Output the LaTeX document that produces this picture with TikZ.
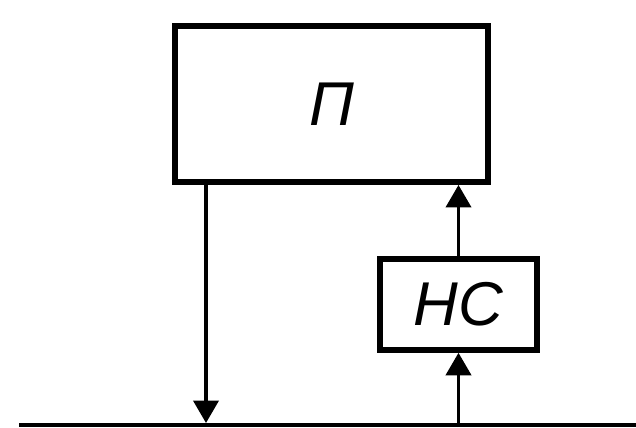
\documentclass[tikz,border=0pt]{standalone}
\usepackage{fontspec}
\setmainfont{Liberation Sans}
\usepackage{tikz}
\usetikzlibrary{arrows.meta}
\tikzset{
  blok/.style={draw,line width=4.2pt,inner sep=0pt,font=\fontsize{44}{44}\selectfont\itshape},
  sig/.style={line width=2.2pt,-{Triangle[length=16pt,width=18pt]}}}

\begin{document}
\begin{tikzpicture}[x=0.025cm,y=0.025cm,line join=miter]
\useasboundingbox (0,0) rectangle (636,427);
\node[blok,minimum width=7.825cm,minimum height=3.9cm] (P) at (331.5,323) {П};
\node[blok,minimum width=3.925cm,minimum height=2.275cm,line width=4pt] (NS) at (458.5,122.5) {НС};
\coordinate (bl) at (19,2);
\coordinate (br) at (636,2);
\coordinate (in) at (206,4);
\coordinate (out) at (458.5,0);
\draw[line width=2.8pt] (bl) -- (br);
\draw[sig] (P.south -| in) -- (in);
\draw[sig] (out) -- (NS.south);
\draw[sig] (NS.north) -- (NS.north |- P.south);
\end{tikzpicture}
\end{document}
